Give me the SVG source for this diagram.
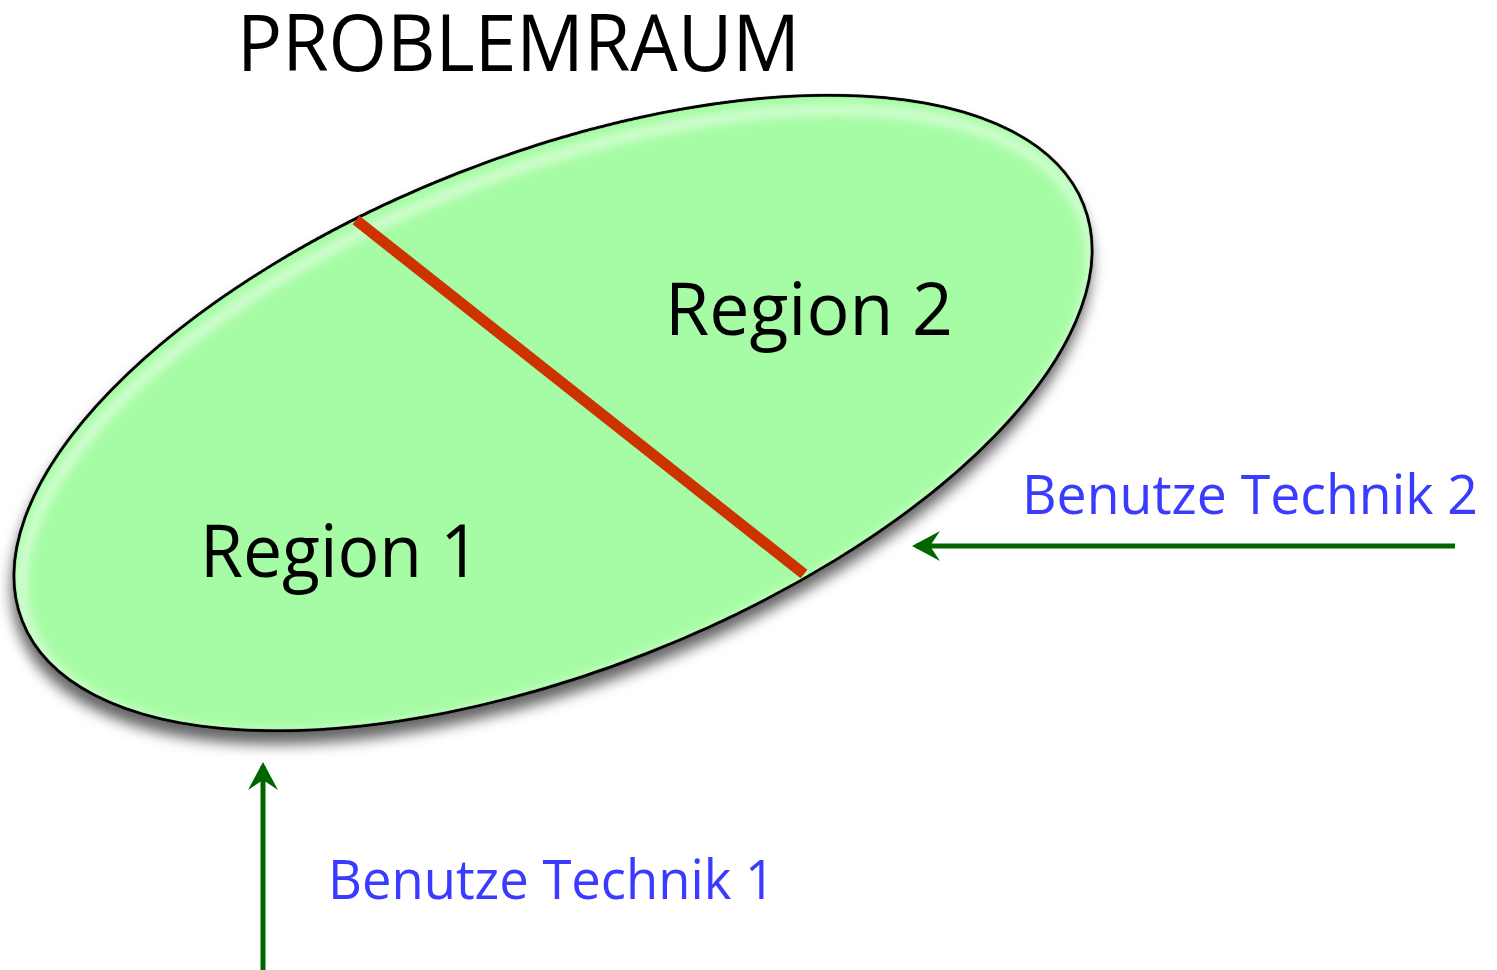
<svg xmlns="http://www.w3.org/2000/svg" width="1497" height="970" viewBox="0 0 1497 970">
<defs>
<style>
.title{font-family:"Open Sans","DejaVu Sans",sans-serif;font-size:78px;fill:#000}
.region{font-family:"Open Sans","DejaVu Sans",sans-serif;font-size:74px;fill:#000}
.label{font-family:"Open Sans","DejaVu Sans",sans-serif;font-size:54px;fill:#3b3bff}
.arrow{stroke:#006600;stroke-width:5;fill:none}
</style>
<marker id="ah" viewBox="0 0 30 30" refX="26" refY="15" markerWidth="30" markerHeight="30" markerUnits="userSpaceOnUse" orient="auto">
<path d="M30,15 L2,0 L12,15 L2,30 Z" fill="#006600"/>
</marker>
<filter id="shadow" x="-10%" y="-10%" width="120%" height="130%">
<feDropShadow dx="-6" dy="11" stdDeviation="7" flood-color="#000" flood-opacity="0.6"/>
</filter>
<filter id="blur"><feGaussianBlur stdDeviation="5"/></filter>
<clipPath id="clip">
<ellipse cx="553" cy="413" rx="570" ry="258" transform="rotate(-21.4 553 413)"/>
</clipPath>
</defs>
<g id="problemraum">
<ellipse cx="553" cy="413" rx="570" ry="258" transform="rotate(-21.4 553 413)" fill="#a6fca4" stroke="#000" stroke-width="2.5" filter="url(#shadow)"/>
<g clip-path="url(#clip)">
<ellipse cx="553" cy="423" rx="566" ry="252" transform="rotate(-21.4 553 413)" fill="none" stroke="#ffffff" stroke-opacity="0.55" stroke-width="10" filter="url(#blur)"/>
</g>
<ellipse cx="553" cy="413" rx="570" ry="258" transform="rotate(-21.4 553 413)" fill="none" stroke="#000" stroke-width="2.5"/>
<line x1="356" y1="220" x2="804" y2="574" stroke="#cc3300" stroke-width="11"/>
</g>
<g id="title"><text class="title" x="237" y="71" textLength="563" lengthAdjust="spacingAndGlyphs">PROBLEMRAUM</text></g>
<g id="region2"><text class="region" x="665" y="335" textLength="288" lengthAdjust="spacingAndGlyphs">Region 2</text></g>
<g id="region1"><text class="region" x="200" y="577" textLength="280" lengthAdjust="spacingAndGlyphs">Region 1</text></g>
<g id="technik2"><text class="label" x="1022" y="514" textLength="456" lengthAdjust="spacingAndGlyphs">Benutze Technik 2</text></g>
<g id="technik1"><text class="label" x="328" y="899" textLength="447" lengthAdjust="spacingAndGlyphs">Benutze Technik 1</text></g>
<g id="connectors">
<line class="arrow" x1="1455" y1="546" x2="916" y2="546" marker-end="url(#ah)"/>
<line class="arrow" x1="263" y1="970" x2="263" y2="766" marker-end="url(#ah)"/>
</g>
</svg>
